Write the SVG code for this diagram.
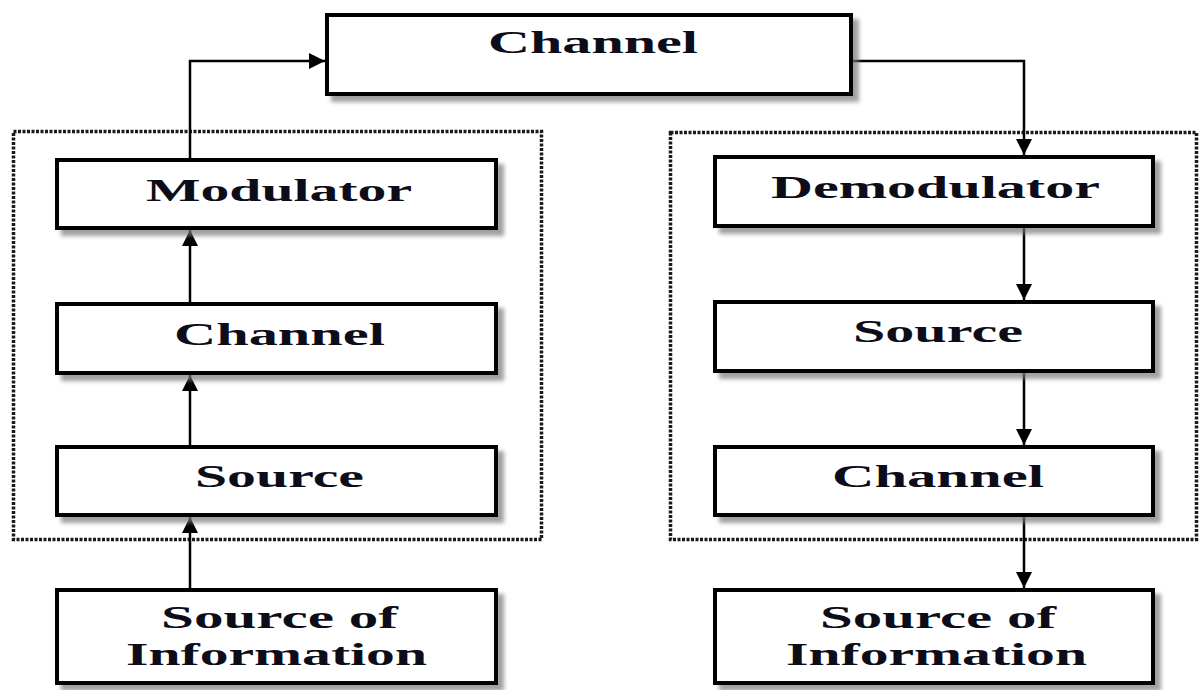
<svg xmlns="http://www.w3.org/2000/svg" width="1199" height="690" viewBox="0 0 1199 690">
  <defs>
    <filter id="shadow" x="-5%" y="-10%" width="115%" height="130%">
      <feGaussianBlur in="SourceAlpha" stdDeviation="2"/>
      <feOffset dx="6" dy="6" result="blur"/>
      <feFlood flood-color="#777" flood-opacity="0.7"/>
      <feComposite in2="blur" operator="in" result="shade"/>
      <feMerge>
        <feMergeNode in="shade"/>
        <feMergeNode in="SourceGraphic"/>
      </feMerge>
    </filter>
    <marker id="arrow" viewBox="0 0 16 16" refX="16" refY="8" markerWidth="16" markerHeight="16" markerUnits="userSpaceOnUse" orient="auto">
      <path d="M0,0 L16,8 L0,16 Z" fill="#000"/>
    </marker>
  </defs>
  <style>
    .box { fill: #fff; stroke: #000; stroke-width: 4; filter: url(#shadow); }
    .group { fill: none; stroke: #1a1a1a; stroke-width: 3.5; stroke-dasharray: 3 1.5; }
    .label { font-family: "Liberation Serif", "Times New Roman", serif; font-weight: bold; font-size: 31px; fill: #0d0d1a; }
    .conn { fill: none; stroke: #000; stroke-width: 2.5; marker-end: url(#arrow); }
  </style>

  <rect width="1199" height="690" fill="#fff"/>

  <!-- transmitter and receiver groupings -->
  <rect class="group" x="13.5" y="131.5" width="528" height="408"/>
  <rect class="group" x="670.5" y="132.5" width="526" height="407"/>

  <g id="connectors">
    <path class="conn" d="M190,158 V61 H325"/>
    <path class="conn" d="M853,61 H1024 V155"/>
    <path class="conn" d="M190,302 V230"/>
    <path class="conn" d="M190,445 V375"/>
    <path class="conn" d="M190,588 V517"/>
    <path class="conn" d="M1024,228 V300"/>
    <path class="conn" d="M1024,373 V445"/>
    <path class="conn" d="M1024,517 V588"/>
  </g>

  <g id="channel-main">
    <rect class="box" x="327" y="15" width="524" height="79"/>
    <text class="label" x="488" y="53" textLength="210" lengthAdjust="spacingAndGlyphs">Channel</text>
  </g>

  <g id="modulator">
    <rect class="box" x="57" y="160" width="439" height="68"/>
    <text class="label" x="146" y="201" textLength="266" lengthAdjust="spacingAndGlyphs">Modulator</text>
  </g>
  <g id="channel-encoder">
    <rect class="box" x="57" y="304" width="439" height="69"/>
    <text class="label" x="174" y="345" textLength="211" lengthAdjust="spacingAndGlyphs">Channel</text>
  </g>
  <g id="source-encoder">
    <rect class="box" x="57" y="447" width="439" height="68"/>
    <text class="label" x="195" y="487" textLength="169" lengthAdjust="spacingAndGlyphs">Source</text>
  </g>
  <g id="info-source">
    <rect class="box" x="57" y="590" width="439" height="93"/>
    <text class="label" x="161" y="628" textLength="237" lengthAdjust="spacingAndGlyphs">Source of</text>
    <text class="label" x="126" y="665" textLength="301" lengthAdjust="spacingAndGlyphs">Information</text>
  </g>

  <g id="demodulator">
    <rect class="box" x="715" y="157" width="438" height="69"/>
    <text class="label" x="771" y="198" textLength="329" lengthAdjust="spacingAndGlyphs">Demodulator</text>
  </g>
  <g id="source-decoder">
    <rect class="box" x="715" y="302" width="438" height="69"/>
    <text class="label" x="853" y="342" textLength="170" lengthAdjust="spacingAndGlyphs">Source</text>
  </g>
  <g id="channel-decoder">
    <rect class="box" x="715" y="447" width="438" height="68"/>
    <text class="label" x="832" y="487" textLength="212" lengthAdjust="spacingAndGlyphs">Channel</text>
  </g>
  <g id="info-sink">
    <rect class="box" x="715" y="590" width="438" height="93"/>
    <text class="label" x="820" y="628" textLength="236" lengthAdjust="spacingAndGlyphs">Source of</text>
    <text class="label" x="786" y="665" textLength="301" lengthAdjust="spacingAndGlyphs">Information</text>
  </g>
</svg>
